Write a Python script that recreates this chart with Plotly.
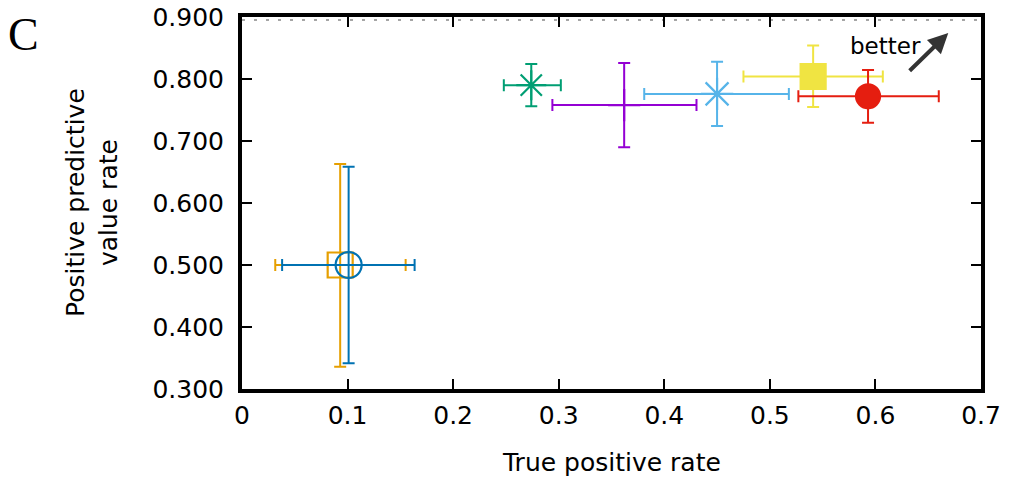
import plotly.graph_objects as go

# ---- data ----
names = ["orange", "blue", "green", "purple", "lightblue", "yellow", "red"]
tpr = [0.093, 0.101, 0.274, 0.362, 0.450, 0.541, 0.593]
tpr_lo = [0.0315, 0.038, 0.248, 0.294, 0.381, 0.475, 0.527]
tpr_hi = [0.155, 0.1635, 0.302, 0.4305, 0.518, 0.607, 0.660]
ppv = [0.500, 0.500, 0.790, 0.758, 0.776, 0.804, 0.772]
ppv_lo = [0.336, 0.3415, 0.756, 0.690, 0.724, 0.755, 0.7295]
ppv_hi = [0.663, 0.6585, 0.824, 0.826, 0.828, 0.854, 0.8145]

colors = ["#e69f00", "#0072b2", "#009e73", "#9400d3", "#56b4e9", "#f0e442", "#e51e10"]
symbols = ["square-open", "circle-open", "asterisk-open", "cross-thin-open",
           "asterisk-open", "square", "circle"]
sizes = [25, 26, 25, 23, 27, 25, 24]

x_ticks = [0, 0.1, 0.2, 0.3, 0.4, 0.5, 0.6, 0.7]
y_ticks = [0.3, 0.4, 0.5, 0.6, 0.7, 0.8, 0.9]
ref_line_y = 0.895

arrow_tail = (0.631, 0.811)
arrow_head = (0.669, 0.874)
better_pos = (0.610, 0.853)

FONT = "DejaVu Sans"

fig = go.Figure()

for i in range(len(names)):
    fig.add_trace(go.Scatter(
        x=[tpr[i]], y=[ppv[i]],
        mode="markers",
        marker=dict(symbol=symbols[i], size=sizes[i], color=colors[i],
                    line=dict(color=colors[i], width=2.2)),
        error_x=dict(type="data", symmetric=False,
                     array=[tpr_hi[i] - tpr[i]], arrayminus=[tpr[i] - tpr_lo[i]],
                     color=colors[i], thickness=2, width=6),
        error_y=dict(type="data", symmetric=False,
                     array=[ppv_hi[i] - ppv[i]], arrayminus=[ppv[i] - ppv_lo[i]],
                     color=colors[i], thickness=2, width=6),
        showlegend=False, name=names[i],
    ))

# dashed reference line near the top
fig.add_shape(type="line", xref="x", yref="y", x0=0, x1=0.7, y0=ref_line_y, y1=ref_line_y,
              line=dict(color="#888888", width=1.5, dash="3px,9px"), layer="below")

# "better" arrow
fig.add_annotation(x=arrow_head[0], y=arrow_head[1], ax=arrow_tail[0], ay=arrow_tail[1],
                   xref="x", yref="y", axref="x", ayref="y", text="",
                   showarrow=True, arrowhead=2, arrowsize=1.0, arrowwidth=4,
                   arrowcolor="#333333")
fig.add_annotation(x=better_pos[0], y=better_pos[1], xref="x", yref="y", text="better",
                   showarrow=False, font=dict(family=FONT, size=23, color="#000000"),
                   xanchor="center", yanchor="middle")

# axis titles
fig.add_annotation(x=0.5, y=0, xref="paper", yref="paper", yshift=-73,
                   text="True positive rate", showarrow=False,
                   font=dict(family=FONT, size=25, color="#000000"),
                   xanchor="center", yanchor="middle")
fig.add_annotation(x=0, y=0.5, xref="paper", yref="paper", xshift=-150,
                   text="Positive predictive<br>value rate", showarrow=False, textangle=-90,
                   font=dict(family=FONT, size=25, color="#000000"),
                   xanchor="center", yanchor="middle")
# panel label
fig.add_annotation(x=0, y=1, xref="paper", yref="paper", xshift=-236, yshift=-17,
                   text="C", showarrow=False,
                   font=dict(family="Liberation Serif", size=46, color="#000000"),
                   xanchor="left", yanchor="middle")

axis_common = dict(showline=True, linecolor="#000000", linewidth=4, mirror="allticks",
                   ticks="inside", ticklen=10, tickwidth=2, tickcolor="#000000",
                   showgrid=False, zeroline=False, ticklabeloverflow="allow",
                   tickfont=dict(family=FONT, size=25, color="#000000"))

fig.update_xaxes(range=[0, 0.7], tickvals=x_ticks,
                 ticktext=["0", "0.1", "0.2", "0.3", "0.4", "0.5", "0.6", "0.7"],
                 ticklabelstandoff=1, **axis_common)
fig.update_yaxes(range=[0.3, 0.9], tickvals=y_ticks, tickformat=".3f",
                 ticklabelstandoff=9, **axis_common)

# page body has an 8px margin, so the figure is sized 8px smaller
fig.update_layout(width=1001, height=470,
                  margin=dict(l=234, r=28, t=9, b=89, autoexpand=False),
                  plot_bgcolor="white", paper_bgcolor="white",
                  font=dict(family=FONT, color="#000000"))

fig.write_html("out.html")
